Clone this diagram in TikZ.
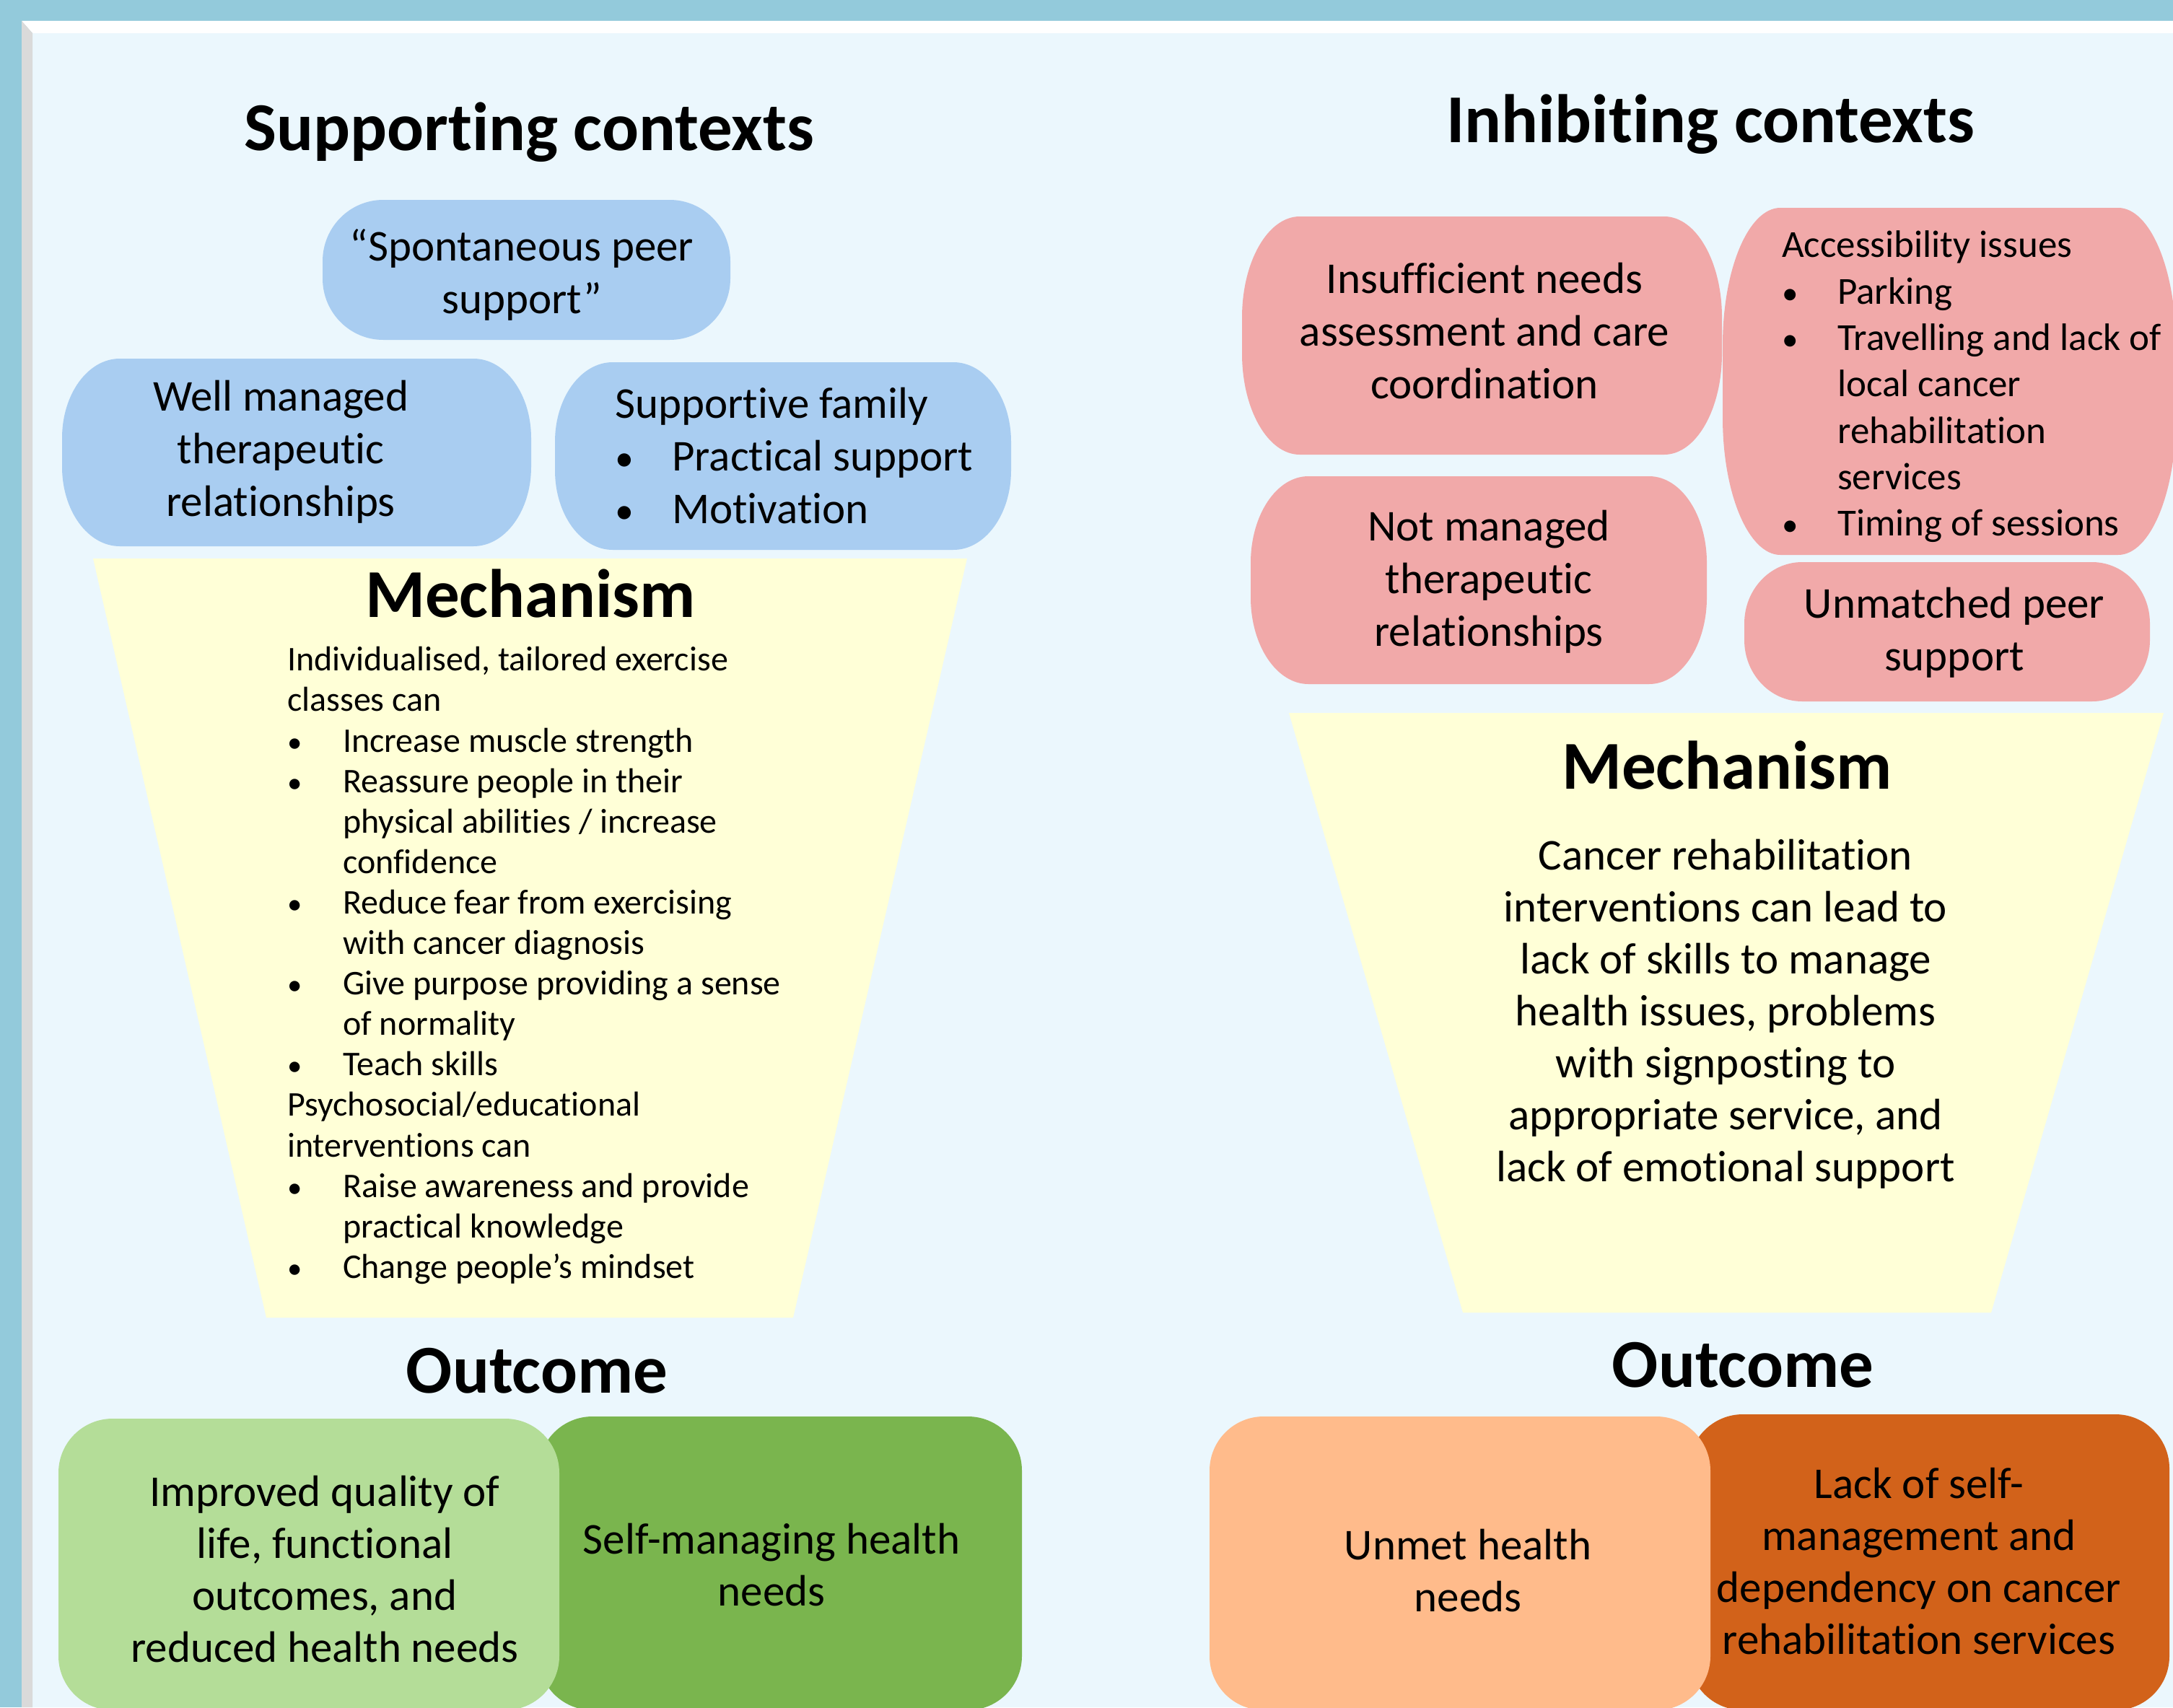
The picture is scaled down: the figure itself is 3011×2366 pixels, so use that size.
\documentclass[tikz,border=0pt]{standalone}
\usepackage{fontspec}
\setmainfont{Carlito}[Ligatures=CommonOff]
\definecolor{framec}{HTML}{93CADB}
\definecolor{panelc}{HTML}{EBF7FD}
\definecolor{bevelc}{HTML}{DADADA}
\definecolor{bluebox}{HTML}{A9CDF1}
\definecolor{pinkbox}{HTML}{F1A9A9}
\definecolor{mechc}{HTML}{FFFFD7}
\definecolor{lgreen}{HTML}{B4DD98}
\definecolor{dgreen}{HTML}{7AB54E}
\definecolor{lorange}{HTML}{FFBB8B}
\definecolor{dorange}{HTML}{D2621A}
% #1 name, #2 colour, #3 x1, #4 y1, #5 x2, #6 y2, #7 rx, #8 ry
\newcommand\ebox[8]{%
\fill[#2] ({#3+#7},#4) -- ({#5-#7},#4)
 .. controls ({#5-0.4477*#7},#4) and (#5,{#4+0.4477*#8}) .. (#5,{#4+#8})
 -- (#5,{#6-#8})
 .. controls (#5,{#6-0.4477*#8}) and ({#5-0.4477*#7},#6) .. ({#5-#7},#6)
 -- ({#3+#7},#6)
 .. controls ({#3+0.4477*#7},#6) and (#3,{#6-0.4477*#8}) .. (#3,{#6-#8})
 -- (#3,{#4+#8})
 .. controls (#3,{#4+0.4477*#8}) and ({#3+0.4477*#7},#4) .. cycle;
\coordinate (#1) at ({(#3+#5)/2},{(#4+#6)/2});}
\newcommand\bul[1]{\makebox[#1pt][l]{\scalebox{0.85}{\textbullet}}}
\begin{document}
\begin{tikzpicture}[x=1pt,y=-1pt,
  title/.style={font=\bfseries\fontsize{95}{114}\selectfont, anchor=base, inner sep=0pt},
  ctx/.style={font=\fontsize{61}{73}\selectfont, align=center, inner sep=0pt},
  outtxt/.style={font=\fontsize{61}{72}\selectfont, align=center, inner sep=0pt},
  mechtxt/.style={font=\fontsize{48}{56.1}\selectfont, align=left, anchor=west, inner sep=0pt},
  acctxtst/.style={font=\fontsize{53}{64.3}\selectfont, align=left, anchor=west, inner sep=0pt}]
\clip (0,0) rectangle (3011,2366);
% frame
\fill[framec] (0,0) rectangle (3011,2366);
\fill[panelc] (45,46) rectangle (3011,2366);
\fill[white] (30,29) -- (3011,29) -- (3011,46) -- (45,46) -- cycle;
\fill[bevelc] (30,29) -- (45,46) -- (45,2366) -- (30,2366) -- cycle;

% ---------- supporting side ----------
\node[title] (suptitle) at (733,208) {Supporting contexts};
\ebox{spont}{bluebox}{447}{277}{1012}{471}{84}{85}
\ebox{well}{bluebox}{86}{497}{736}{757}{80}{110}
\ebox{family}{bluebox}{769}{502}{1401}{762}{80}{110}
\node[ctx] (sponttxt) at (723,381) {“Spontaneous peer\\support”};
\node[ctx] (welltxt) at (389,626) {Well managed\\therapeutic\\relationships};
\node[ctx, align=left, anchor=west] (familytxt) at (852,632)
  {Supportive family\\\bul{79}Practical support\\\bul{79}Motivation};

\fill[mechc] (129,774) -- (1340,774) -- (1099,1826) -- (369,1826) -- cycle;
\coordinate (mechleft) at (735,1300);
\node[title] (mechtitle1) at (735,855) {Mechanism};
\node[mechtxt] (mechtxt1) at (398,1338) {Individualised, tailored exercise\\
classes can\\
\bul{77}Increase muscle strength\\
\bul{77}Reassure people in their\\
\hspace*{77pt}physical abilities / increase\\
\hspace*{77pt}confidence\\
\bul{77}Reduce fear from exercising\\
\hspace*{77pt}with cancer diagnosis\\
\bul{77}Give purpose providing a sense\\
\hspace*{77pt}of normality\\
\bul{77}Teach skills\\
Psychosocial/educational\\
interventions can\\
\bul{77}Raise awareness and provide\\
\hspace*{77pt}practical knowledge\\
\bul{77}Change people’s mindset};

\node[title] (outtitle1) at (744,1930) {Outcome};
\ebox{outdg}{dgreen}{746}{1963}{1416}{2370}{75}{75}
\ebox{outlg}{lgreen}{81}{1966}{775}{2370}{75}{75}
\node[outtxt] (outlgtxt) at (450,2175) {Improved quality of\\life, functional\\outcomes, and\\reduced health needs};
\node[outtxt] (outdgtxt) at (1069,2169) {Self-managing health\\needs};

% ---------- inhibiting side ----------
\node[title] (inhtitle) at (2370,197) {Inhibiting contexts};
\ebox{insuf}{pinkbox}{1721}{300}{2386}{630}{80}{140}
\ebox{access}{pinkbox}{2387}{288}{3015}{769}{80}{190}
\ebox{notman}{pinkbox}{1733}{660}{2365}{948}{80}{120}
\ebox{unmatch}{pinkbox}{2417}{779}{2979}{972}{80}{85}
\node[ctx] (insuftxt) at (2057,459) {Insufficient needs\\assessment and care\\coordination};
\node[ctx] (notmantxt) at (2063,806) {Not managed\\therapeutic\\relationships};
\node[ctx] (unmatchtxt) at (2708,877) {Unmatched peer\\support};
\node[acctxtst] (accesstxt) at (2469,536) {Accessibility issues\\
\bul{77}Parking\\
\bul{77}Travelling and lack of\\
\hspace*{77pt}local cancer\\
\hspace*{77pt}rehabilitation\\
\hspace*{77pt}services\\
\bul{77}Timing of sessions};

\fill[mechc] (1786,988) -- (2998,988) -- (2759,1819) -- (2027,1819) -- cycle;
\node[title] (mechtitle2) at (2393,1093) {Mechanism};
\node[outtxt] (mechtxt2) at (2391,1405) {Cancer rehabilitation\\interventions can lead to\\lack of skills to manage\\health issues, problems\\with signposting to\\appropriate service, and\\lack of emotional support};

\node[title] (outtitle2) at (2415,1922) {Outcome};
\ebox{outdo}{dorange}{2340}{1960}{3006}{2370}{75}{75}
\ebox{outlo}{lorange}{1676}{1963}{2370}{2370}{75}{75}
\node[outtxt] (outlotxt) at (2034,2177) {Unmet health\\needs};
\node[outtxt] (outdotxt) at (2659,2164) {Lack of self-\\management and\\dependency on cancer\\rehabilitation services};
\end{tikzpicture}
\end{document}
